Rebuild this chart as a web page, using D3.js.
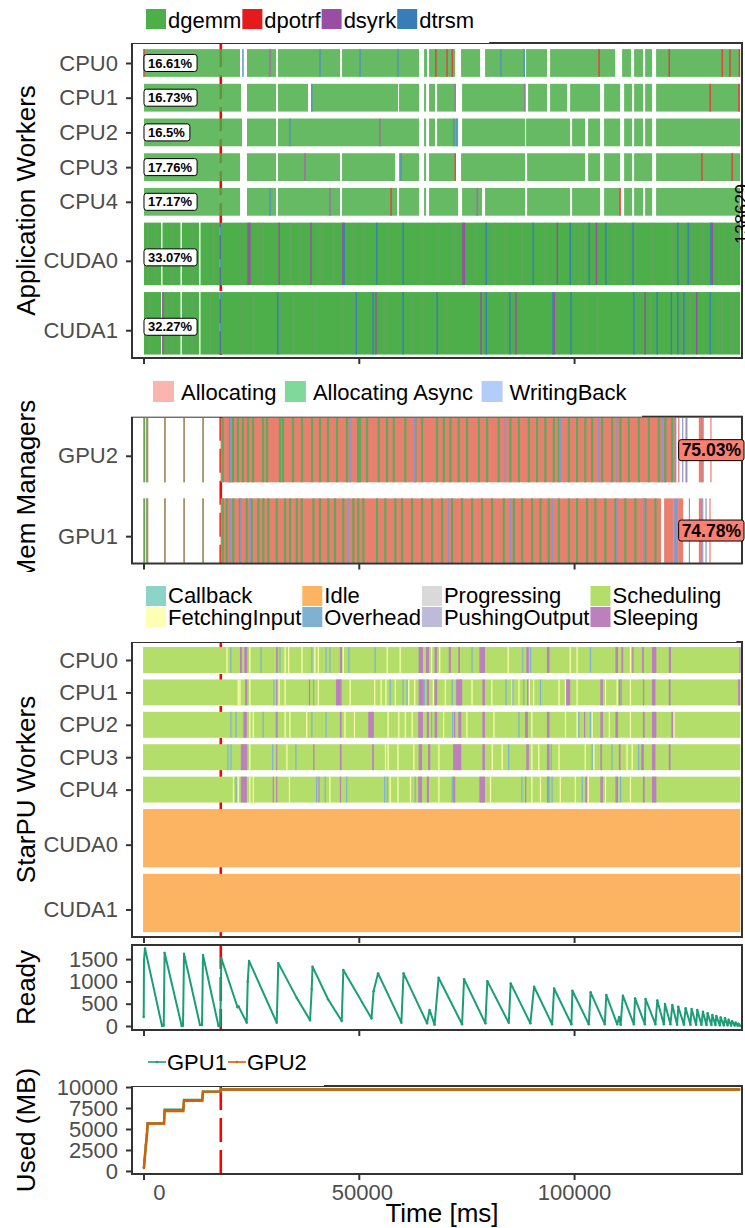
<!DOCTYPE html>
<html><head><meta charset="utf-8">
<script src="https://cdn.jsdelivr.net/npm/d3@7"></script>
<style>
html,body{margin:0;padding:0;background:#fff;}
svg text{font-family:"Liberation Sans",Arial,Helvetica,sans-serif;}
</style></head>
<body><svg id="chart" width="745" height="1228"></svg>
<script>
// ======================= DATA =======================
const makespan = 138629;
const markerTime = 17950;
const timeTicks = [0, 50000, 100000];

// ---- Application workers ----
const appRows = ['CPU0','CPU1','CPU2','CPU3','CPU4','CUDA0','CUDA1'];
const appTasks = ['dgemm','dpotrf','dsyrk','dtrsm'];
const appTaskColors = ['#4DAF4A','#E41A1C','#984EA3','#377EB8'];
const appShare = [16.61, 16.73, 16.5, 17.76, 17.17, 33.07, 32.27];

const appBusyCPU0 = [[120,22410],[24040,30780],[31240,45640],[46110,63990],[65160,65860],[66320,72360],[73750,78170],[79330,88620],[88850,93730],[94430,109530],[111150,113240],[113940,116030],[116500,118120],[119050,138560]];
const appBusyCPU1 = [[120,22640],[24040,30780],[31240,38210],[38910,59120],[59350,63990],[65160,65620],[66320,67710],[68180,72360],[73990,88620],[89320,93730],[94430,98380],[99080,106040],[106970,110690],[111620,113480],[113940,116030],[116500,118120],[119050,138560]];
const appBusyCPU2 = [[120,22880],[24040,30780],[31240,63990],[65160,65620],[66320,67710],[68180,73060],[73990,88620],[88850,99080],[99540,102560],[103260,106040],[106970,110690],[111620,113480],[113940,116030],[116500,118120],[119050,138560]];
const appBusyCPU3 = [[120,22410],[24040,30780],[31240,45640],[46110,58420],[59350,63990],[65160,65620],[66320,72360],[73750,88620],[89090,102560],[103260,106040],[106970,110690],[111620,113480],[113940,118120],[119050,138560]];
const appBusyCPU4 = [[120,22410],[24040,30780],[31240,45640],[46110,58890],[59350,63990],[65160,65620],[66320,73060],[73990,78630],[79330,88620],[89090,99080],[99540,106040],[106970,110690],[111620,113480],[113940,116030],[116500,118120],[119050,138560]];
const appBusyCUDA0 = [[120,4070],[4410,8590],[8940,12890],[13240,17650],[18000,138560]];
const appBusyCUDA1 = [[120,4070],[4410,8590],[8940,12890],[13240,17650],[18000,138560]];

const appAccentCPU0 = [[100,'dpotrf'],[23100,'dtrsm'],[29400,'dsyrk'],[41000,'dtrsm'],[50300,'dtrsm'],[59100,'dtrsm'],[67900,'dpotrf'],[70500,'dpotrf'],[71700,'dpotrf'],[83000,'dtrsm'],[88400,'dtrsm'],[105800,'dpotrf'],[122100,'dpotrf'],[134400,'dpotrf'],[136200,'dpotrf'],[138400,'dpotrf']];
const appAccentCPU1 = [[39100,'dtrsm'],[72400,'dsyrk'],[88600,'dsyrk'],[131600,'dpotrf'],[138300,'dpotrf']];
const appAccentCPU2 = [[34000,'dtrsm'],[54900,'dsyrk'],[72100,'dtrsm'],[72800,'dtrsm']];
const appAccentCPU3 = [[37500,'dsyrk'],[59800,'dtrsm'],[72400,'dpotrf'],[129700,'dpotrf'],[136700,'dpotrf']];
const appAccentCPU4 = [[29400,'dtrsm'],[43300,'dsyrk'],[57500,'dpotrf'],[77500,'dsyrk'],[110700,'dpotrf']];
const appAccentCUDA0 = [[17800,'dtrsm'],[46600,'dtrsm'],[54200,'dtrsm'],[60300,'dtrsm'],[79600,'dtrsm'],[90500,'dtrsm'],[99100,'dtrsm'],[103500,'dtrsm'],[107400,'dtrsm'],[113700,'dtrsm'],[124100,'dtrsm'],[126500,'dtrsm'],[131800,'dtrsm'],
  [24300,'dsyrk'],[24700,'dsyrk'],[31500,'dsyrk'],[38900,'dsyrk'],[46300,'dsyrk'],[74200,'dsyrk'],[74500,'dsyrk'],[96100,'dsyrk'],[105200,'dsyrk'],[132100,'dsyrk']];
const appAccentCUDA1 = [[17800,'dtrsm'],[31200,'dtrsm'],[49400,'dtrsm'],[53300,'dtrsm'],[60300,'dtrsm'],[68200,'dtrsm'],[79600,'dtrsm'],[85100,'dtrsm'],[95100,'dtrsm'],[99300,'dtrsm'],[113900,'dtrsm'],[119300,'dtrsm'],[122600,'dtrsm'],[124100,'dtrsm'],[125500,'dtrsm'],[131600,'dtrsm'],
  [4500,'dsyrk'],[54000,'dsyrk'],[78400,'dsyrk'],[86500,'dsyrk'],[95400,'dsyrk'],[116500,'dsyrk'],[128500,'dsyrk']];
// task boundaries visible as thin grey seams inside the CUDA rows
const appSeamCUDA0 = [1050,2670,6850,11500,16150,22420,26600,27760,34030,36350,41000,44020,48670,51000,57030,64690,68640,72120,77000,81640,83970,87910,93260,101160,102550,109520,111840,114170,118120,122770,125090,127410,129740,133690,135080,136700];
const appSeamCUDA1 = [1510,5460,6850,10100,11270,15450,22420,25440,31710,34730,39840,46340,48670,56100,62370,64690,70500,78630,83740,86300,96520,102550,105340,114170,117650,125090,126950,133690,134390,136700];

// ---- Memory managers ----
const memRows = ['GPU2','GPU1'];
const memStates = ['Allocating','Allocating Async','WritingBack'];
const memLegendColors = ['#FBB4AE','#7FD99B','#B3CDFA'];
const memDrawColors = ['#E9806F','#5FA95C','#8C97C8'];
const memShare = [75.03, 74.78];
const memEarly = [[-50,400],[600,1100],[4760,5160],[9250,9640],[13660,14050]];
const memDenseGPU2 = [17900, 123700];
const memDenseGPU1 = [17900, 120200];
const memAsyncGPU2 = [18400,20090,20790,21950,23110,24280,25440,27760,28690,31710,32410,34730,36820,39140,41000,42860,44950,47270,49830,50290,51920,54640,56570,58120,60820,63140,64700,68180,69740,71270,73220,75150,77870,79800,82510,85210,87160,89480,91410,93340,95290,96450,98770,100700,102630,104190,106510,108830,110760,112710,115040,117360,119680,121210,122770];
const memWriteGPU2 = [20260,47970,63000,84050,96750,105740,110000,120450,123540];
const memAsyncGPU1 = [18400,19330,20860,22420,23970,25140,26670,27830,28990,30940,32870,34030,35590,36750,39450,41000,42930,44490,46410,48740,49900,51060,54240,56170,58490,60050,62370,64700,67020,69340,71670,73990,76310,78630,80960,83680,86000,87930,90250,92180,94130,96450,98770,100700,103030,104950,107280,109600,111920,114250,116570,118890];
const memWriteGPU1 = [20090,22650,24740,47570,70900,85210,94900,110000,116200];
const memTailGPU2 = [[124160,124470,'Allocating'],[125090,125250,'WritingBack'],[125860,126260,'Allocating'],[126030,126260,'WritingBack'],[128970,130130,'Allocating'],[129500,129700,'WritingBack'],[131650,131800,'Allocating']];
const memTailGPU1 = [[120910,123170,'Allocating'],[123170,124160,'WritingBack'],[124160,125330,'Allocating'],[126650,126850,'WritingBack'],[128970,129740,'Allocating'],[129740,129900,'WritingBack'],[130510,130700,'WritingBack'],[131430,131600,'Allocating']];

// ---- StarPU workers ----
const starRows = ['CPU0','CPU1','CPU2','CPU3','CPU4','CUDA0','CUDA1'];
const starStates = ['Callback','FetchingInput','Idle','Overhead','Progressing','PushingOutput','Scheduling','Sleeping'];
const starColors = ['#8DD3C7','#FFFFB3','#FDB462','#80B1D3','#D9D9D9','#BEBADA','#B3DE69','#BC80BD'];
const starBase = ['Scheduling','Scheduling','Scheduling','Scheduling','Scheduling','Idle','Idle'];
const starSpan = [-100, 138600];
const starFetchCPU0 = [19400,24700,32900,33700,36800,39800,40600,46400,56600,59600,66900,68800,84700,99100,100700,113100];
const starOverCPU0 = [20300,27300,31700,39100,42400,43300,47700,53800,76300,88100,89900,103800];
const starSleepCPU0 = [[22400,22900],[23400,24100],[30800,31200],[45600,46100],[63900,64900],[65600,66300],[67600,68200],[70900,71400],[73100,73500],[78000,79300],[88900,89500],[93700,94300],[109600,110200],[111000,111400],[113500,113800],[115800,116200],[118100,119100],[122000,122500],[138400,138600]];
const starFetchCPU1 = [22000,22400,24700,31500,32900,40600,48000,53700,55200,56300,58500,61600,63000,67300,70100,76300,80900,85600,87200,89600,90600,96500,98000,100700,107300,110000,113100];
const starOverCPU1 = [30300,39500,57300,60300,61200,65300,71700,84200,85800,88300,92200,111000];
const starSleepCPU1 = [[23600,24100],[30800,31000],[38400,38600],[44700,46000],[63900,65100],[65800,66300],[67600,68200],[72600,74000],[78700,79300],[89100,89500],[98100,99100],[106100,106700],[110400,110800],[116000,116200],[118100,118900],[122000,122400],[138100,138600]];
const starFetchCPU2 = [24700,25500,32900,34000,37900,46800,49000,56800,59300,60800,62400,69700,75100,81400,90200,98000,100700,104200,108200,113100,123200];
const starOverCPU2 = [20300,21500,27800,31100,39100,42400,66900,71800,87200,101100,103800];
const starSleepCPU2 = [[23200,24000],[30700,31000],[45600,46000],[52200,53500],[63800,64900],[65800,66300],[67600,68200],[72100,72400],[73100,73800],[78700,79300],[88600,89300],[93700,94300],[102300,102600],[106100,106700],[109600,110200],[116000,116400],[118100,119100],[122600,123100]];
const starFetchCPU3 = [24700,33300,56200,56800,59100,62800,68600,81000,83300,90200,91800,96500,102600,104600,112300,113500];
const starOverCPU3 = [19600,20300,30000,35400,84800,94700,104200,108800,115000];
const starSleepCPU3 = [[22600,24100],[30800,31000],[39400,39700],[45600,46000],[53100,53500],[63900,64700],[66100,66600],[71900,73800],[78700,79300],[88900,89500],[93700,94300],[106100,106500],[110400,110800],[115600,116200],[118100,118900],[122000,122400]];
const starFetchCPU4 = [20900,22000,24700,25500,33900,43300,57300,59100,62000,68600,80600,90200,92200,96800,100300,103300,107300,113100];
const starOverCPU4 = [21500,40200,42200,47200,56000,56600,63100,71700,87900,94100,94900,101900,110800];
const starSleepCPU4 = [[22600,24000],[30000,30200],[30800,31000],[40600,40800],[45600,45900],[63800,64700],[65800,66300],[71900,72400],[78000,79300],[88600,88900],[93700,94300],[102600,103000],[106100,106700],[109600,110200],[116000,116400],[118100,119100]];

// ---- Ready tasks ----
const readyTime = [50,120,350,4300,4700,4900,8870,9180,9410,13120,13590,13820,17420,17840,18070,21840,22070,23970,24210,24510,30940,31310,35590,35890,38680,39070,39260,42860,46040,46410,52960,53430,54480,59890,60400,65860,66440,67600,68530,73990,74450,79400,79860,84830,85280,89850,90710,94900,95360,99380,99610,103420,103840,107130,107490,110000,110460,110810,111340,113870,114170,116430,116610,118890,119330,120840,121120,122380,122820,123930,124210,125490,125910,127020,127300,128350,128620,129580,129930,130740,131020,131900,132110,132830,133040,133850,134040,134780,135040,135660,135890,136470,136700,137280,137520,137990,138170,138640];
const readyCount = [200,1480,1740,0,10,1640,0,10,1620,20,20,1590,0,10,1520,420,440,75,1000,1460,75,1410,630,580,130,830,1330,600,110,1255,170,780,1180,75,1180,60,360,30,1080,40,1050,60,1005,70,955,60,880,40,840,40,790,40,755,40,695,40,200,30,680,40,620,40,605,40,570,40,495,40,470,30,433,30,397,30,381,25,359,25,321,20,284,20,247,20,224,15,194,15,172,15,140,10,110,10,80,5,50,0];
const readyTicks = [0, 500, 1000, 1500];

// ---- Used memory ----
const usedSeries = ['GPU1','GPU2'];
const usedColors = ['#1B9E77','#D95F02'];
const usedTime = [100,250,560,790,970,4760,4900,9250,9400,13650,13800,17880,18000,138600];
const usedGPU1 = [350,1300,3100,4300,5650,5650,7300,7300,8450,8450,9450,9450,9700,9700];
const usedGPU2 = [350,1300,3100,4300,5650,5650,7150,7150,8350,8350,9450,9450,9700,9700];
const usedTicks = [0, 2500, 5000, 7500, 10000];

// ======================= LAYOUT =======================
const svg = d3.select('#chart');
const FONT = '"Liberation Sans", Arial, Helvetica, sans-serif';
const TXT = '#4D4D4D';
const X0 = 132, X1 = 742;
const x = d3.scaleLinear().domain([-2670, 139000]).range([X0, X1]);

const APP = {top: 43, bottom: 358};
const MEM = {top: 416.7, bottom: 563.5};
const STAR = {top: 642, bottom: 937};
const READY = {top: 945, bottom: 1030};
const USED = {top: 1086, bottom: 1174};

const rowPos = [0,1,2,3,4,5,7];
const rowH = [1,1,1,1,1,2,2];
const yApp = d3.scaleLinear().domain([-0.576, 8.5]).range([APP.top, APP.bottom]);
const yStar = d3.scaleLinear().domain([-0.556, 8.55]).range([STAR.top, STAR.bottom]);
const yMem = d3.scaleLinear().domain([-0.416, 1.41]).range([MEM.top, MEM.bottom]);
const yReady = d3.scaleLinear().domain([-90, 1816]).range([READY.bottom, READY.top]);
const yUsed = d3.scaleLinear().domain([-360, 10120]).range([USED.bottom, USED.top]);

const appColor = d3.scaleOrdinal(appTasks, appTaskColors);
const memColor = d3.scaleOrdinal(memStates, memDrawColors);
const starColor = d3.scaleOrdinal(starStates, starColors);

let clipN = 0;
function clipGroup(top, bottom) {
  const id = 'clip' + (clipN++);
  svg.append('clipPath').attr('id', id).append('rect')
    .attr('x', X0).attr('y', top).attr('width', X1 - X0).attr('height', bottom - top);
  return svg.append('g').attr('clip-path', `url(#${id})`);
}
function marker(g, top, bottom) {
  g.append('line').attr('x1', x(markerTime)).attr('x2', x(markerTime))
    .attr('y1', top).attr('y2', bottom)
    .attr('stroke', '#FF0000').attr('stroke-width', 2.6).attr('stroke-dasharray', '24,8');
}
function border(p) {
  svg.append('rect').attr('x', X0).attr('y', p.top).attr('width', X1 - X0).attr('height', p.bottom - p.top)
    .attr('fill', 'none').attr('stroke', '#333').attr('stroke-width', 2);
}
function styleAxis(g) {
  g.select('.domain').remove();
  g.selectAll('line').attr('stroke', '#333').attr('stroke-width', 2);
  g.selectAll('text').attr('font-size', 22).attr('fill', TXT).attr('font-family', FONT);
}
function bottomAxis(p, withLabels) {
  // tick labels are right-padded to a common width of 6 characters
  const ax = d3.axisBottom(x).tickValues(timeTicks).tickSize(6).tickPadding(4)
    .tickFormat(withLabels ? d3.format(' >6d') : () => '');
  const g = svg.append('g').attr('transform', `translate(0,${p.bottom})`).call(ax);
  styleAxis(g);
  g.selectAll('text').style('white-space', 'pre');
}
function leftAxis(scale, values, fmt) {
  const ax = d3.axisLeft(scale).tickValues(values).tickSize(6).tickPadding(8).tickFormat(fmt);
  styleAxis(svg.append('g').attr('transform', `translate(${X0},0)`).call(ax));
}
function yTitle(text, cy) {
  svg.append('text').attr('transform', `translate(35,${cy}) rotate(-90)`)
    .attr('text-anchor', 'middle').attr('font-size', 26).attr('fill', '#000').text(text);
}
function textWidth(sel) { return sel.node().getComputedTextLength(); }
const rowTop = (pos) => pos - 0.4;
const rowBottom = (pos, h) => pos - 0.4 + h - 0.2;
const rowTick = (pos, h) => pos + (h - 1) * 0.7;

// ======================= PANEL 1: Application Workers =======================
{
  const g = clipGroup(APP.top, APP.bottom);
  marker(g, APP.top, APP.bottom);
  const busy = [appBusyCPU0, appBusyCPU1, appBusyCPU2, appBusyCPU3, appBusyCPU4, appBusyCUDA0, appBusyCUDA1];
  const accents = [appAccentCPU0, appAccentCPU1, appAccentCPU2, appAccentCPU3, appAccentCPU4, appAccentCUDA0, appAccentCUDA1];
  const seams = [[], [], [], [], [], appSeamCUDA0, appSeamCUDA1];
  appRows.forEach((row, r) => {
    const pos = rowPos[r], h = rowH[r];
    const y0 = yApp(rowTop(pos)), y1 = yApp(rowBottom(pos, h));
    const rg = g.append('g').attr('opacity', h > 1 ? 1 : 0.85);
    rg.selectAll(null).data(busy[r]).join('rect')
      .attr('x', d => x(d[0])).attr('width', d => Math.max(0.8, x(d[1]) - x(d[0])))
      .attr('y', y0).attr('height', y1 - y0).attr('fill', appColor('dgemm'));
    rg.selectAll(null).data(seams[r]).join('rect')
      .attr('x', d => x(d) - 0.5).attr('width', 1)
      .attr('y', y0).attr('height', y1 - y0).attr('fill', '#7D9677').attr('opacity', 0.75);
    rg.selectAll(null).data(accents[r]).join('rect')
      .attr('x', d => x(d[0]) - 0.7).attr('width', 1.4)
      .attr('y', y0).attr('height', y1 - y0).attr('fill', d => appColor(d[1]));
  });
  border(APP);
  const boxG = svg.append('g');
  let cx = 146;
  appTasks.forEach((t, i) => {
    svg.append('rect').attr('x', cx).attr('y', 9).attr('width', 20).attr('height', 20).attr('fill', appTaskColors[i]);
    const tx = svg.append('text').attr('x', cx + 22).attr('y', 27.5).attr('font-size', 22).attr('fill', '#000').text(t);
    cx += 22 + textWidth(tx) + 1;
  });
  boxG.append('rect').attr('x', 131).attr('y', 0).attr('width', cx + 14 - 131).attr('height', APP.top).attr('fill', '#fff');
  appRows.forEach((row, r) => {
    const pos = rowPos[r], h = rowH[r];
    const cy = yApp(pos - 0.4 + (h - 0.2) / 2 + (h - 1) * 0.1);
    const lg = svg.append('g');
    const tx = lg.append('text').attr('x', x(0) + 4.5).attr('y', cy).attr('dy', '0.36em')
      .attr('font-size', 13).attr('font-weight', 'bold').attr('fill', '#000').text(appShare[r] + '%');
    const w = textWidth(tx);
    lg.insert('rect', 'text').attr('x', x(0) + 0.5).attr('y', cy - 8.5).attr('width', w + 9).attr('height', 17)
      .attr('rx', 2.5).attr('fill', '#fff').attr('stroke', '#000').attr('stroke-width', 1);
  });
  leftAxis(yApp, appRows.map((d, i) => rowTick(rowPos[i], rowH[i])), (d, i) => appRows[i]);
  bottomAxis(APP, false);
  yTitle('Application Workers', (APP.top + APP.bottom) / 2);
  svg.append('text').attr('transform', `translate(748,214) rotate(-90)`).attr('text-anchor', 'middle')
    .attr('font-size', 18).attr('fill', '#000').text(makespan);
}

// ======================= PANEL 2: Memory Managers =======================
{
  const g = clipGroup(MEM.top, MEM.bottom);
  marker(g, MEM.top, MEM.bottom);
  const dense = [memDenseGPU2, memDenseGPU1];
  const asyncs = [memAsyncGPU2, memAsyncGPU1];
  const writes = [memWriteGPU2, memWriteGPU1];
  const tails = [memTailGPU2, memTailGPU1];
  memRows.forEach((row, r) => {
    const y0 = yMem(r - 0.4), y1 = yMem(r + 0.4), hh = y1 - y0;
    g.selectAll(null).data(memEarly).join('rect')
      .attr('x', d => x(d[0])).attr('width', d => Math.max(1.2, x(d[1]) - x(d[0])))
      .attr('y', y0).attr('height', hh).attr('fill', memColor('Allocating Async'));
    g.selectAll(null).data(memEarly.slice(1)).join('rect')
      .attr('x', d => x(d[0])).attr('width', d => Math.max(1.2, x(d[1]) - x(d[0])))
      .attr('y', y0).attr('height', hh).attr('fill', memColor('Allocating')).attr('opacity', 0.55);
    g.append('rect').attr('x', x(dense[r][0])).attr('width', x(dense[r][1]) - x(dense[r][0]))
      .attr('y', y0).attr('height', hh).attr('fill', memColor('Allocating'));
    g.selectAll(null).data(asyncs[r]).join('rect')
      .attr('x', d => x(d) - 1.1).attr('width', 2.2)
      .attr('y', y0).attr('height', hh).attr('fill', memColor('Allocating Async'));
    g.selectAll(null).data(writes[r]).join('rect')
      .attr('x', d => x(d) - 0.9).attr('width', 1.8)
      .attr('y', y0).attr('height', hh).attr('fill', memColor('WritingBack'));
    g.selectAll(null).data(tails[r]).join('rect')
      .attr('x', d => x(d[0])).attr('width', d => Math.max(1.2, x(d[1]) - x(d[0])))
      .attr('y', y0).attr('height', hh).attr('fill', d => memColor(d[2]));
  });
  border(MEM);
  const boxG = svg.append('g');
  let cx = 153;
  memStates.forEach((s, i) => {
    svg.append('rect').attr('x', cx).attr('y', 381).attr('width', 21).attr('height', 21).attr('fill', memLegendColors[i]);
    const tx = svg.append('text').attr('x', cx + 28).attr('y', 399.5).attr('font-size', 22).attr('fill', '#000').text(s);
    cx += 28 + textWidth(tx) + 8.5;
  });
  boxG.append('rect').attr('x', 131).attr('y', 372).attr('width', cx + 7 - 131).attr('height', MEM.top - 372).attr('fill', '#fff');
  memRows.forEach((row, r) => {
    const cy = yMem(r);
    const right = x.range()[1] + 2;
    const lg = svg.append('g');
    const tx = lg.append('text').attr('x', right - 3).attr('y', cy).attr('dy', '0.36em').attr('text-anchor', 'end')
      .attr('font-size', 17.5).attr('font-weight', 'bold').attr('fill', '#000').text(memShare[r] + '%');
    const w = textWidth(tx);
    lg.insert('rect', 'text').attr('x', right - w - 6).attr('y', cy - 10.5).attr('width', w + 6).attr('height', 21)
      .attr('rx', 2.5).attr('fill', '#FA8072').attr('stroke', '#000').attr('stroke-width', 1);
  });
  leftAxis(yMem, memRows.map((d, i) => i + 0.07), (d, i) => memRows[i]);
  bottomAxis(MEM, false);
  yTitle('Mem Managers', (MEM.top + MEM.bottom) / 2);
  svg.append('rect').attr('x', 0).attr('y', 572).attr('width', 131).attr('height', 12).attr('fill', '#fff');
}

// ======================= PANEL 3: StarPU Workers =======================
{
  const g = clipGroup(STAR.top, STAR.bottom);
  marker(g, STAR.top, STAR.bottom);
  const fetch = [starFetchCPU0, starFetchCPU1, starFetchCPU2, starFetchCPU3, starFetchCPU4, [], []];
  const over = [starOverCPU0, starOverCPU1, starOverCPU2, starOverCPU3, starOverCPU4, [], []];
  const sleep = [starSleepCPU0, starSleepCPU1, starSleepCPU2, starSleepCPU3, starSleepCPU4, [], []];
  starRows.forEach((row, r) => {
    const pos = rowPos[r], h = rowH[r];
    const y0 = yStar(rowTop(pos)), y1 = yStar(rowBottom(pos, h)), hh = y1 - y0;
    g.append('rect').attr('x', x(starSpan[0])).attr('width', x(starSpan[1]) - x(starSpan[0]))
      .attr('y', y0).attr('height', hh).attr('fill', starColor(starBase[r]));
    g.selectAll(null).data(sleep[r]).join('rect')
      .attr('x', d => x(d[0])).attr('width', d => Math.max(1.2, x(d[1]) - x(d[0])))
      .attr('y', y0).attr('height', hh).attr('fill', starColor('Sleeping'));
    g.selectAll(null).data(fetch[r]).join('rect')
      .attr('x', d => x(d) - 0.6).attr('width', 1.2)
      .attr('y', y0).attr('height', hh).attr('fill', starColor('FetchingInput'));
    g.selectAll(null).data(over[r]).join('rect')
      .attr('x', d => x(d) - 0.6).attr('width', 1.2)
      .attr('y', y0).attr('height', hh).attr('fill', starColor('Overhead'));
  });
  border(STAR);
  const boxG = svg.append('g');
  let cx = 146;
  for (let c = 0; c < 4; c++) {
    let maxW = 0;
    for (let r = 0; r < 2; r++) {
      const i = c * 2 + r;
      svg.append('rect').attr('x', cx).attr('y', 586 + r * 21).attr('width', 20).attr('height', 20).attr('fill', starColors[i]);
      const tx = svg.append('text').attr('x', cx + 22).attr('y', 603.3 + r * 21.3).attr('font-size', 22).attr('fill', '#000').text(starStates[i]);
      maxW = Math.max(maxW, textWidth(tx));
    }
    cx += 22 + maxW + 1;
  }
  boxG.append('rect').attr('x', 131).attr('y', 576).attr('width', cx + 14 - 131).attr('height', STAR.top - 576).attr('fill', '#fff');
  leftAxis(yStar, starRows.map((d, i) => rowTick(rowPos[i], rowH[i])), (d, i) => starRows[i]);
  bottomAxis(STAR, false);
  yTitle('StarPU Workers', (STAR.top + STAR.bottom) / 2);
}

// ======================= PANEL 4: Ready =======================
{
  const g = clipGroup(READY.top, READY.bottom);
  marker(g, READY.top, READY.bottom);
  const pts = readyTime.map((t, i) => [t, readyCount[i]]);
  g.append('path').datum(pts).attr('fill', 'none').attr('stroke', '#1B9E77').attr('stroke-width', 2)
    .attr('stroke-linejoin', 'round')
    .attr('d', d3.line().x(d => x(d[0])).y(d => yReady(d[1])));
  g.selectAll(null).data(pts).join('circle')
    .attr('cx', d => x(d[0])).attr('cy', d => yReady(d[1])).attr('r', 1.2).attr('fill', '#1B9E77');
  border(READY);
  leftAxis(yReady, readyTicks, d3.format('d'));
  bottomAxis(READY, false);
  yTitle('Ready', (READY.top + READY.bottom) / 2);
}

// ======================= PANEL 5: Used (MB) =======================
{
  const g = clipGroup(USED.top, USED.bottom);
  marker(g, USED.top, USED.bottom);
  const series = [usedGPU1, usedGPU2];
  series.forEach((vals, s) => {
    const pts = usedTime.map((t, i) => [t, vals[i]]);
    g.append('path').datum(pts).attr('fill', 'none').attr('stroke', usedColors[s]).attr('stroke-width', 2.4)
      .attr('d', d3.line().x(d => x(d[0])).y(d => yUsed(d[1])));
    g.selectAll(null).data(pts.slice(0, 5)).join('circle')
      .attr('cx', d => x(d[0])).attr('cy', d => yUsed(d[1])).attr('r', 1.2).attr('fill', usedColors[s]);
  });
  border(USED);
  const boxG = svg.append('g');
  let cx = 148;
  usedSeries.forEach((s, i) => {
    svg.append('line').attr('x1', cx).attr('x2', cx + 18).attr('y1', 1062).attr('y2', 1062)
      .attr('stroke', usedColors[i]).attr('stroke-width', 1.6);
    svg.append('circle').attr('cx', cx + 9).attr('cy', 1062).attr('r', 1.2).attr('fill', usedColors[i]);
    const tx = svg.append('text').attr('x', cx + 19).attr('y', 1069.5).attr('font-size', 22).attr('fill', '#000').text(s);
    cx += 19 + textWidth(tx) + 1;
  });
  boxG.append('rect').attr('x', 131).attr('y', 1046).attr('width', cx + 16 - 131).attr('height', USED.top - 1046).attr('fill', '#fff');
  leftAxis(yUsed, usedTicks, d3.format('d'));
  bottomAxis(USED, true);
  yTitle('Used (MB)', (USED.top + USED.bottom) / 2);
  svg.append('text').attr('x', (X0 + X1) / 2 + 5).attr('y', 1221.5).attr('text-anchor', 'middle')
    .attr('font-size', 26).attr('fill', '#000').text('Time [ms]');
}
</script>
</body></html>
